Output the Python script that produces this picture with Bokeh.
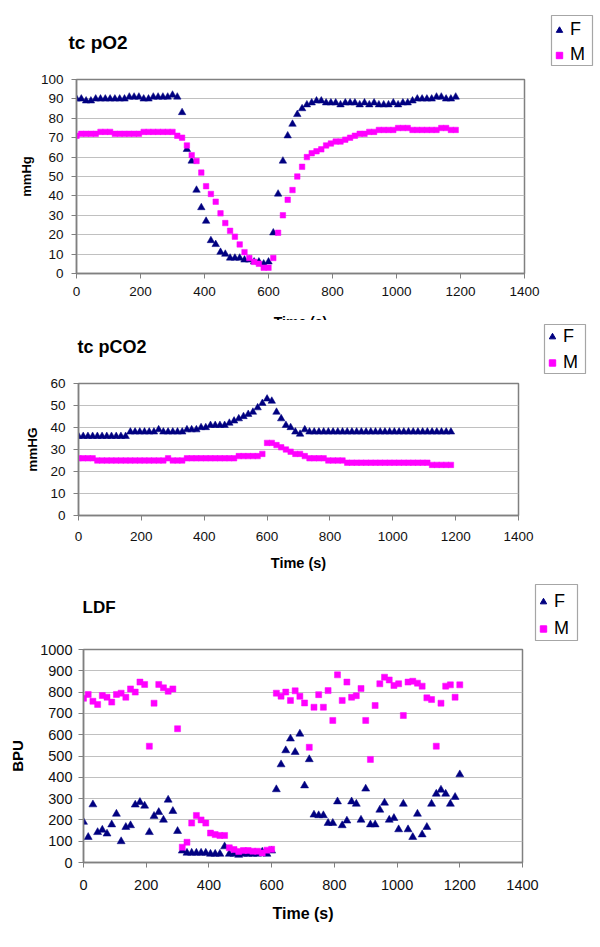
from bokeh.plotting import figure
from bokeh.models import FixedTicker, Label, Legend, LegendItem, Range1d
from bokeh.layouts import column
from bokeh.embed import file_html
from bokeh.resources import INLINE

FONT = "Liberation Sans"
NAVY = "#000080"
MAG = "#FF00FF"
W = 600

# ---------------- data ----------------
time_15 = list(range(0, 1200, 15))      # 0 .. 1185 s, sample every 15 s
time_ldf = list(range(0, 1201, 15))     # 0 .. 1200 s

po2_F = [90, 90, 89, 89, 90, 90, 90, 90, 90, 90, 90, 91, 91, 91, 90, 90, 91, 91, 91, 91,
         92, 91, 83, 64, 58, 43, 34, 27, 17, 15, 11, 10, 8, 8, 8, 7, 7, 6, 6, 5,
         6, 21, 41, 58, 71, 77, 82, 85, 87, 88, 89, 89, 88, 88, 88, 87, 88, 88, 88, 87,
         88, 87, 88, 87, 87, 87, 88, 87, 88, 88, 89, 90, 90, 90, 90, 91, 91, 90, 90, 91]
po2_M = [71, 72, 72, 72, 72, 73, 73, 73, 72, 72, 72, 72, 72, 72, 73, 73, 73, 73, 73, 73,
         73, 71, 70, 66, 61, 58, 52, 45, 41, 37, 31, 26, 22, 19, 15, 11, 8, 6, 5, 3,
         3, 8, 21, 30, 38, 43, 50, 55, 60, 62, 63, 64, 66, 67, 68, 68, 69, 70, 71, 72,
         72, 73, 73, 74, 74, 74, 74, 75, 75, 75, 74, 74, 74, 74, 74, 74, 75, 75, 74, 74]

pco2_F = [36, 36, 36, 36, 36, 36, 36, 36, 36, 36, 36, 38, 38, 38, 38, 38, 38, 39, 38, 38,
          38, 38, 38, 39, 39, 39, 40, 40, 41, 41, 41, 41, 42, 43, 44, 45, 46, 47, 49, 51,
          53, 52, 47, 44, 41, 40, 38, 37, 39, 38, 38, 38, 38, 38, 38, 38, 38, 38, 38, 38,
          38, 38, 38, 38, 38, 38, 38, 38, 38, 38, 38, 38, 38, 38, 38, 38, 38, 38, 38, 38]
pco2_M = [26, 26, 26, 26, 25, 25, 25, 25, 25, 25, 25, 25, 25, 25, 25, 25, 25, 25, 25, 26,
          25, 25, 25, 26, 26, 26, 26, 26, 26, 26, 26, 26, 26, 26, 27, 27, 27, 27, 27, 28,
          33, 33, 32, 31, 30, 29, 28, 28, 27, 26, 26, 26, 26, 25, 25, 25, 25, 24, 24, 24,
          24, 24, 24, 24, 24, 24, 24, 24, 24, 24, 24, 24, 24, 24, 24, 23, 23, 23, 23, 23]

ldf_F = [190, 119, 272, 142, 153, 135, 178, 228, 99, 166, 174, 271, 283, 266, 142, 218, 236, 200, 294, 241,
         147, 55, 45, 45, 45, 45, 45, 40, 40, 40, 75, 40, 40, 35, 40, 40, 40, 40, 50, 40,
         55, 343, 460, 526, 581, 518, 604, 361, 484, 224, 221, 221, 185, 185, 286, 174, 196, 286, 275, 200,
         346, 178, 178, 247, 280, 200, 208, 155, 275, 155, 119, 228, 131, 166, 275, 322, 341, 322, 275, 307,
         413]
ldf_M = [771, 789, 757, 742, 784, 776, 753, 789, 795, 776, 815, 800, 847, 836, 546, 748, 836, 820, 804, 815,
         628, 72, 95, 185, 221, 200, 185, 138, 131, 127, 127, 69, 61, 52, 56, 56, 53, 53, 45, 58,
         62, 795, 781, 800, 761, 806, 780, 749, 541, 729, 788, 729, 807, 667, 881, 761, 847, 776, 783, 817,
         667, 484, 737, 839, 870, 857, 831, 839, 690, 847, 851, 842, 828, 773, 765, 546, 748, 828, 834, 776,
         834]

x_ticks = [0, 200, 400, 600, 800, 1000, 1200, 1400]


def blank(height):
    """A figure whose frame is the whole canvas, for titles / legends."""
    p = figure(width=W, height=height, output_backend="svg", toolbar_location=None,
               x_range=Range1d(0, W), y_range=Range1d(0, height), min_border=0,
               x_axis_location=None, y_axis_location=None, frame_align=False)
    p.outline_line_color = None
    p.grid.visible = False
    p.background_fill_color = "white"
    p.border_fill_color = "white"
    return p


def header(height, title, tx, ty, title_px, leg_loc, leg_h, leg_sp, box):
    h = blank(height)
    h.add_layout(Label(x=tx, y=ty, text=title, text_font=FONT, text_font_style="bold",
                       text_font_size=title_px, text_align="left", text_baseline="middle",
                       text_color="black"))
    # frame drawn round the legend (header coordinates are pixels)
    h.quad(left=[box[0]], right=[box[1]], bottom=[box[2]], top=[box[3]],
           fill_color="white", line_color="#a6a6a6", line_width=1.2)
    # legend-only renderers: their single point lies outside the visible range
    rf = h.scatter(x=[-1000], y=[-1000], marker="triangle", size=8, fill_color=NAVY, line_color=NAVY)
    rm = h.scatter(x=[-1000], y=[-1000], marker="square", size=6, fill_color=MAG, line_color=MAG)
    leg = Legend(items=[LegendItem(label="F", renderers=[rf]), LegendItem(label="M", renderers=[rm])],
                 location=leg_loc, orientation="vertical", padding=3, spacing=leg_sp, margin=0,
                 label_standoff=3, glyph_width=16, glyph_height=leg_h, label_height=leg_h,
                 label_width=15, label_text_font=FONT, label_text_font_size="18px",
                 label_text_color="black", border_line_color=None,
                 background_fill_alpha=0.0)
    h.add_layout(leg)
    return h


def main(height, bl, br, bt, bb, ymax, ystep, t, f, m, tick_px, xstand, ystand,
         ylabel, ylabel_px, ylab_stand, xlabel, xlabel_px, xlab_stand, tri, sq):
    p = figure(width=W, height=height, output_backend="svg", toolbar_location=None,
               x_range=Range1d(0, 1400), y_range=Range1d(0, ymax), frame_align=False,
               min_border_left=bl, min_border_right=br, min_border_top=bt, min_border_bottom=bb)
    p.background_fill_color = "white"
    p.border_fill_color = "white"
    p.outline_line_color = "#808080"
    p.outline_line_width = 1.5
    p.xgrid.grid_line_color = None
    p.ygrid.grid_line_color = "#c0c0c0"
    p.ygrid.grid_line_width = 1
    p.xaxis.ticker = FixedTicker(ticks=x_ticks)
    p.yaxis.ticker = FixedTicker(ticks=list(range(0, ymax + 1, ystep)))
    for ax, st in ((p.xaxis, xstand), (p.yaxis, ystand)):
        ax.axis_line_color = "#808080"
        ax.axis_line_width = 1.5
        ax.major_tick_line_color = "#808080"
        ax.major_tick_in = 0
        ax.major_tick_out = 5
        ax.minor_tick_line_color = None
        ax.major_label_text_font = FONT
        ax.major_label_text_font_size = tick_px
        ax.major_label_text_color = "#111111"
        ax.major_label_standoff = st
        ax.axis_label_text_font = FONT
        ax.axis_label_text_font_style = "bold"
        ax.axis_label_text_color = "black"
    p.yaxis.axis_label = ylabel
    p.yaxis.axis_label_text_font_size = ylabel_px
    p.yaxis.axis_label_standoff = ylab_stand
    if xlabel:
        p.xaxis.axis_label = xlabel
        p.xaxis.axis_label_text_font_size = xlabel_px
        p.xaxis.axis_label_standoff = xlab_stand

    p.scatter(t, f, marker="triangle", size=tri, fill_color=NAVY, line_color=NAVY, line_width=0.5)
    p.scatter(t, m, marker="square", size=sq, fill_color=MAG, line_color=MAG, line_width=0.5)
    return p


# ---- panel 1 : tc pO2 ----
h1 = header(70, "tc pO2", 68, 28, "19px", (551, 5), 20, 4, (551, 592, 5, 55))
m1 = main(236, 76, 76, 9, 33, 100, 10, time_15, po2_F, po2_M, "13.5px", 8, 8,
          "mmHg", "13px", 4, None, None, 0, 7.5, 5.5)
# x-axis title of the first panel, cut off by the panel edge as in the original
f1 = blank(14)
f1.add_layout(Label(x=300, y=7, text="Time (s)", text_font=FONT, text_font_style="bold",
                    text_font_size="14px", text_align="center", text_baseline="top",
                    text_color="black"))

# ---- panel 2 : tc pCO2 ----
h2 = header(54, "tc pCO2", 77, 28, "18px", (544, 1), 19, 5, (544, 585, 1, 50))
m2 = main(206, 78, 82, 9, 65, 60, 10, time_15, pco2_F, pco2_M, "13.5px", 11, 8,
          "mmHG", "13.5px", 7, "Time (s)", "14.5px", 11, 7.5, 5.5)

# ---- panel 3 : LDF ----
h3 = header(61, "LDF", 82, 34, "17px", (535, 1), 23, 4, (535, 577, 1, 57))
m3 = main(306, 83, 78, 8, 85, 1000, 100, time_ldf, ldf_F, ldf_M, "14.5px", 12, 6,
          "BPU", "15px", 11, "Time (s)", "16px", 12, 8, 6)

layout = column(h1, m1, f1, h2, m2, h3, m3, spacing=0)
open("out.html", "w").write(file_html(layout, INLINE))
